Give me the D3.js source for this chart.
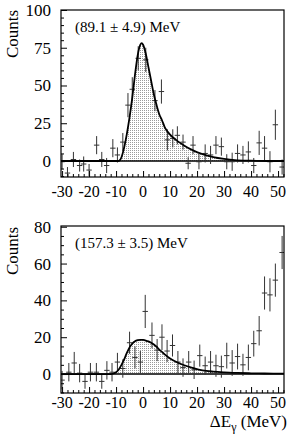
<!DOCTYPE html>
<html>
<head>
<meta charset="utf-8">
<script src="https://cdn.jsdelivr.net/npm/d3@7"></script>
<style>
  body { margin: 0; background: #fff; }
</style>
</head>
<body>
<svg id="chart" width="289" height="442"></svg>
<script>
// top panel: measured points [dE, counts, error]
var topPoints = [
  [-30, -0.5, 5], [-28, -8, 4], [-25.8, 1, 5], [-23.5, -3, 4], [-22, -2, 5],
  [-20, -6, 4], [-17.2, 10.5, 6], [-15.3, 1, 5], [-13.5, -3, 5], [-11.2, 8.5, 6],
  [-9.5, 4, 5], [-7.5, 12.5, 6], [-5.6, 37, 8], [-4, 47.5, 8], [-1.8, 68, 8],
  [1, 67, 8], [4.4, 40, 7], [6.8, 46, 8], [9, 14, 7], [11, 15, 6],
  [12.7, 17, 6], [14.8, 12.5, 5], [16.7, -1.5, 4], [18.5, 10.5, 6], [20.7, -0.5, 5],
  [23, 5, 6], [25, 4, 6], [27, 10.5, 6], [29, 9.5, 6], [31, -0.5, 5],
  [33, -0.5, 6], [35, 5, 6], [37, 4, 6], [39, 6, 7], [41, -3, 5],
  [43, 12, 8], [45, 8.5, 8], [47, -0.5, 7], [49, 24, 10], [51.5, -4, 5]
];
// top panel fit curve
var topCurve = [
  [-30.4, 0], [-9.3, 0], [-8.5, 0.8], [-8, 2.5], [-7, 9], [-6, 18], [-5, 29],
  [-4, 42], [-3, 57], [-2, 70], [-1, 77], [-0.5, 78], [0, 77], [1, 71],
  [2, 62], [3, 53], [4, 44], [5, 37], [6, 31], [7, 27], [8, 22.5],
  [10, 17.5], [12.5, 13.5], [15, 10.5], [18.5, 7], [22, 4.5], [26, 2.6],
  [30, 1.4], [34, 0.6], [40, 0.2], [46, 0], [52.2, 0]
];

// bottom panel
var bottomPoints = [
  [-30, -3.3, 5], [-27.5, 1, 5], [-25.5, 6, 6], [-23.5, 0.5, 5], [-21.5, -4, 4],
  [-19.5, 1, 5], [-17.3, 1, 5], [-15.3, -4, 4], [-13.4, 2, 5], [-11.5, 1, 5],
  [-9.5, 6.5, 5], [-7.5, 3, 5], [-5, 17, 6], [-3, 9, 6], [-1, 6.5, 6],
  [0.8, 34, 9], [3.3, 21, 7], [5.2, 13, 6], [7, 20, 7], [8.9, 12.5, 6],
  [10.9, 15.5, 6], [12.9, 6.5, 6], [14.8, 3.5, 5], [16.9, 6.5, 6], [18.9, 2.3, 5],
  [21, 10, 6], [23, 4.5, 5], [25, 6.5, 6], [27, 4.5, 6], [29, 4, 6],
  [31, 10, 7], [33, 6, 7], [35, 9.5, 7], [37, 5, 6], [39, 9, 7],
  [41, 16.5, 7], [43, 23.5, 8], [45, 44, 9], [47, 43, 9], [49, 51, 9],
  [51.5, 66, 9]
];
var bottomCurve = [
  [-30.4, 0], [-12, 0], [-11, 0.3], [-10, 1], [-9, 2.5], [-8, 5], [-7, 8],
  [-6, 11.5], [-5, 14.5], [-4, 16.5], [-3, 17.8], [-2, 18.4], [-1, 18.6],
  [0, 18.5], [1, 18.2], [2, 17.7], [3, 17], [4, 16], [5, 14.8], [6, 13.3],
  [7, 12], [8, 10.7], [10, 8.5], [12, 6.8], [15, 4.9], [18.5, 3.3],
  [22, 2], [26, 1.3], [30, 0.9], [35, 0.6], [40, 0.4], [45, 0.3], [52.2, 0.2]
];

var xTicks = [-30, -20, -10, 0, 10, 20, 30, 40, 50];
var topYTicks = [0, 25, 50, 75, 100];
var bottomYTicks = [0, 20, 40, 60, 80];
var topLabel = "(89.1 \u00b1 4.9) MeV";
var bottomLabel = "(157.3 \u00b1 3.5) MeV";

var serif = "'Liberation Serif', 'DejaVu Serif', 'Times New Roman', serif";

var svg = d3.select("#chart")
  .attr("font-family", serif);

var defs = svg.append("defs");
var pat = defs.append("pattern")
  .attr("id", "dots")
  .attr("width", 2).attr("height", 2)
  .attr("patternUnits", "userSpaceOnUse");
pat.append("rect").attr("width", 2).attr("height", 2).attr("fill", "#fff");
pat.append("rect").attr("width", 1).attr("height", 1).attr("fill", "#9a9a9a");

var x = d3.scaleLinear().domain([-30.4, 52.2]).range([61, 284]);

function drawPanel(opts) {
  var y = d3.scaleLinear().domain(opts.yDomain).range([opts.bottom, opts.top]);
  var g = svg.append("g");
  var clipId = "clip" + opts.top;

  defs.append("clipPath").attr("id", clipId)
    .append("rect")
    .attr("x", 61).attr("y", opts.top)
    .attr("width", 223).attr("height", opts.bottom - opts.top);

  var plot = g.append("g").attr("clip-path", "url(#" + clipId + ")");

  // shaded area under fit
  plot.append("path")
    .datum(opts.curve)
    .attr("d", d3.area()
      .x(function(d) { return x(d[0]); })
      .y0(y(0))
      .y1(function(d) { return y(d[1]); })
      .curve(d3.curveMonotoneX))
    .attr("fill", "url(#dots)");

  // zero line
  plot.append("line")
    .attr("x1", 61).attr("x2", 284)
    .attr("y1", y(0)).attr("y2", y(0))
    .attr("stroke", "#000").attr("stroke-width", 1.5);

  // error bars
  var pts = plot.selectAll(".pt").data(opts.points).enter().append("g");
  pts.append("line")
    .attr("x1", function(d) { return x(d[0]); })
    .attr("x2", function(d) { return x(d[0]); })
    .attr("y1", function(d) { return y(d[1] - d[2]); })
    .attr("y2", function(d) { return y(d[1] + d[2]); })
    .attr("stroke", "#333").attr("stroke-width", 1);
  pts.append("line")
    .attr("x1", function(d) { return x(d[0] - 1); })
    .attr("x2", function(d) { return x(d[0] + 1); })
    .attr("y1", function(d) { return y(d[1]); })
    .attr("y2", function(d) { return y(d[1]); })
    .attr("stroke", "#333").attr("stroke-width", 1);

  // fit curve
  plot.append("path")
    .datum(opts.curve)
    .attr("d", d3.line()
      .x(function(d) { return x(d[0]); })
      .y(function(d) { return y(d[1]); })
      .curve(d3.curveMonotoneX))
    .attr("fill", "none")
    .attr("stroke", "#000").attr("stroke-width", 1.8);

  // frame
  g.append("rect")
    .attr("x", 61).attr("y", opts.top)
    .attr("width", 223).attr("height", opts.bottom - opts.top)
    .attr("fill", "none").attr("stroke", "#000").attr("stroke-width", 1.2);

  // x ticks, inside, pointing up
  var xAxis = d3.axisTop(x)
    .tickValues(d3.range(-30, 53, 2))
    .tickSize(0).tickFormat("");
  var xg = g.append("g").attr("transform", "translate(0," + opts.bottom + ")").call(xAxis);
  xg.select(".domain").remove();
  xg.selectAll(".tick").append("line")
    .attr("y2", function(d) { return d % 10 === 0 ? -6 : -3; })
    .attr("stroke", "#000");

  g.selectAll(".xlab").data(xTicks).enter().append("text")
    .attr("x", function(d) { return x(d); })
    .attr("y", opts.bottom + opts.xLabelGap)
    .attr("text-anchor", "middle")
    .attr("font-size", "16px")
    .text(function(d) { return d; });

  // y ticks, inside, pointing right
  var yAxis = d3.axisRight(y)
    .tickValues(d3.range(opts.yMinor[0], opts.yMinor[1] + 1, opts.yMinor[2]))
    .tickSize(0).tickFormat("");
  var yg = g.append("g").attr("transform", "translate(61,0)").call(yAxis);
  yg.select(".domain").remove();
  yg.selectAll(".tick").append("line")
    .attr("x2", function(d) { return d % opts.yMajor === 0 ? 6 : 3; })
    .attr("stroke", "#000");

  g.selectAll(".ylab").data(opts.yTicks).enter().append("text")
    .attr("x", 51)
    .attr("y", function(d) { return y(d) + 6; })
    .attr("text-anchor", "end")
    .attr("font-size", "17px")
    .text(function(d) { return d; });

  // axis title
  g.append("text")
    .attr("transform", "translate(18," + opts.titleY + ") rotate(-90)")
    .attr("text-anchor", "middle")
    .attr("font-size", "17px")
    .text("Counts");

  // annotation
  g.append("text")
    .attr("x", 75).attr("y", opts.top + 22)
    .attr("font-size", "15px")
    .text(opts.label);
}

drawPanel({
  top: 10, bottom: 177, yDomain: [-10.6, 100],
  points: topPoints, curve: topCurve,
  yTicks: topYTicks, yMinor: [-10, 100, 5], yMajor: 25,
  titleY: 34, label: topLabel, xLabelGap: 20
});

drawPanel({
  top: 226, bottom: 393, yDomain: [-10.3, 80.4],
  points: bottomPoints, curve: bottomCurve,
  yTicks: bottomYTicks, yMinor: [-10, 80, 5], yMajor: 20,
  titleY: 251, label: bottomLabel, xLabelGap: 15
});

// x axis title
var xt = svg.append("text")
  .attr("x", 287).attr("y", 427)
  .attr("text-anchor", "end")
  .attr("font-size", "17px");
xt.append("tspan").text("\u0394E");
xt.append("tspan").attr("font-size", "12px").attr("dy", 4).text("\u03b3");
xt.append("tspan").attr("dy", -4).text(" (MeV)");
</script>
</body>
</html>
